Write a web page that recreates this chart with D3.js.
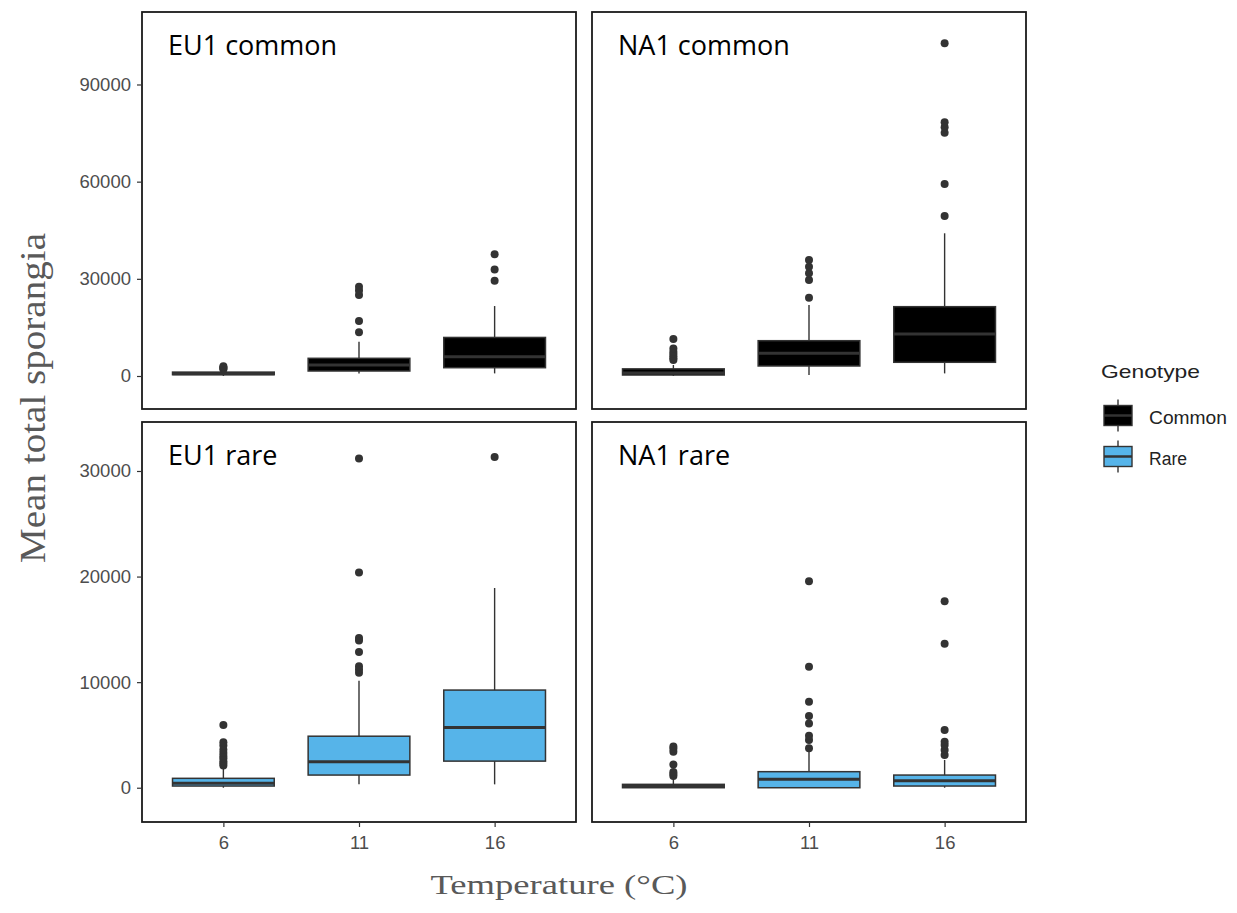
<!DOCTYPE html>
<html>
<head>
<meta charset="utf-8">
<script src="https://cdn.jsdelivr.net/npm/d3@7"></script>
<style>
  body { margin: 0; background: #fff; }
  svg { display: block; }
</style>
</head>
<body>
<svg width="1237" height="913"></svg>
<script>
// temperatures on the x axis
const temps = ["6", "11", "16"];
const genotypes = ["Common", "Rare"];
const panelNames = ["EU1 common", "NA1 common", "EU1 rare", "NA1 rare"];

// boxes per temperature: [lower whisker, q1, median, q3, upper whisker]
const eu1CommonBox = [[0, 400, 700, 1200, 1900], [800, 1540, 3400, 5460, 10590], [800, 2560, 5970, 11900, 21600]];
const eu1CommonOut = [[2100, 2400, 2700, 3000], [13490, 16980, 25010, 26400, 27570], [29400, 32900, 37600]];

const na1CommonBox = [[0, 300, 900, 2200, 3400], [300, 3090, 7000, 10900, 21900], [800, 4230, 12970, 21400, 44060]];
const na1CommonOut = [[4900, 5500, 6100, 6800, 7500, 8500, 11400],
                      [24170, 29640, 31700, 33750, 35810],
                      [49400, 59280, 75110, 76780, 78330, 102700]];

const eu1RareBox = [[0, 160, 420, 890, 1840], [320, 1200, 2460, 4880, 10130], [320, 2520, 5700, 9250, 18920]];
const eu1RareOut = [[2100, 2300, 2500, 2800, 3000, 3300, 3600, 4000, 4300, 5930],
                    [10900, 11200, 11500, 12860, 13950, 14170, 20380, 31180],
                    [31320]];

const na1RareBox = [[0, 0, 150, 320, 890], [0, 0, 800, 1520, 3570], [0, 160, 660, 1200, 2630]];
const na1RareOut = [[1100, 1300, 1500, 2200, 3400, 3700, 3900],
                    [3730, 4510, 4920, 6090, 6790, 8140, 11450, 19560],
                    [3090, 3570, 4040, 4350, 5460, 13630, 17670]];

const topTicks = [0, 30000, 60000, 90000];
const bottomTicks = [0, 10000, 20000, 30000];
const topDomain = [-10190, 112380];
const bottomDomain = [-3246, 34640];

const fills = { Common: "#000000", Rare: "#56B4E9" };

const svg = d3.select('svg');
svg.append('rect').attr('width', 1237).attr('height', 913).attr('fill', '#fff');

const panels = [
  { name: panelNames[0], box: eu1CommonBox, out: eu1CommonOut, geno: "Common", x0: 142, x1: 576, y0: 12,  y1: 409, dom: topDomain, ticks: topTicks, yAxis: true,  xAxis: false },
  { name: panelNames[1], box: na1CommonBox, out: na1CommonOut, geno: "Common", x0: 592, x1: 1026, y0: 12, y1: 409, dom: topDomain, ticks: topTicks, yAxis: false, xAxis: false },
  { name: panelNames[2], box: eu1RareBox, out: eu1RareOut, geno: "Rare", x0: 142, x1: 576, y0: 422, y1: 822, dom: bottomDomain, ticks: bottomTicks, yAxis: true,  xAxis: true },
  { name: panelNames[3], box: na1RareBox, out: na1RareOut, geno: "Rare", x0: 592, x1: 1026, y0: 422, y1: 822, dom: bottomDomain, ticks: bottomTicks, yAxis: false, xAxis: true }
];

const render = p => {
  const xScale = d3.scalePoint().domain(temps).range([p.x0, p.x1]).padding(0.6);
  const yScale = d3.scaleLinear().domain(p.dom).range([p.y1, p.y0]);
  const bw = xScale.step() * 0.75;
  const g = svg.append('g');

  const boxes = temps.map((t, i) => ({ t: t, s: p.box[i], out: p.out[i] }));

  // whiskers
  g.selectAll('line.whisker').data(boxes).enter().append('line')
    .attr('x1', d => xScale(d.t)).attr('x2', d => xScale(d.t))
    .attr('y1', d => yScale(d.s[0])).attr('y2', d => yScale(d.s[4]))
    .attr('stroke', '#333').attr('stroke-width', 1.4);

  // boxes
  g.selectAll('rect.box').data(boxes).enter().append('rect')
    .attr('x', d => xScale(d.t) - bw / 2)
    .attr('width', bw)
    .attr('y', d => yScale(d.s[3]))
    .attr('height', d => Math.max(1, yScale(d.s[1]) - yScale(d.s[3])))
    .attr('fill', fills[p.geno])
    .attr('stroke', '#333').attr('stroke-width', 1.5);

  // medians
  g.selectAll('line.median').data(boxes).enter().append('line')
    .attr('x1', d => xScale(d.t) - bw / 2).attr('x2', d => xScale(d.t) + bw / 2)
    .attr('y1', d => yScale(d.s[2])).attr('y2', d => yScale(d.s[2]))
    .attr('stroke', '#333').attr('stroke-width', 3);

  // outliers
  const pts = [];
  boxes.forEach(b => b.out.forEach(v => pts.push({ t: b.t, v: v })));
  g.selectAll('circle').data(pts).enter().append('circle')
    .attr('cx', d => xScale(d.t)).attr('cy', d => yScale(d.v))
    .attr('r', 4).attr('fill', '#333');

  // panel border
  g.append('rect')
    .attr('x', p.x0).attr('y', p.y0)
    .attr('width', p.x1 - p.x0).attr('height', p.y1 - p.y0)
    .attr('fill', 'none').attr('stroke', '#1a1a1a').attr('stroke-width', 1.8);

  // panel label
  g.append('text')
    .attr('x', p.x0 + 26).attr('y', p.y0 + 43)
    .attr('font-family', '"Open Sans", sans-serif')
    .attr('font-size', 27).attr('fill', '#000')
    .text(p.name);

  if (p.yAxis) {
    const ay = g.append('g')
      .attr('transform', `translate(${p.x0}, 0)`)
      .call(d3.axisLeft(yScale).tickValues(p.ticks).tickSize(5).tickPadding(6).tickFormat(d3.format('d')));
    ay.select('.domain').remove();
    ay.selectAll('.tick line').attr('stroke', '#333').attr('stroke-width', 1.2);
    ay.selectAll('.tick text')
      .attr('font-family', '"Liberation Sans", Arial, sans-serif')
      .attr('font-size', 18.5).attr('fill', '#4d4d4d');
  }
  if (p.xAxis) {
    const ax = g.append('g')
      .attr('transform', `translate(0, ${p.y1})`)
      .call(d3.axisBottom(xScale).tickSize(5).tickPadding(9));
    ax.select('.domain').remove();
    ax.selectAll('.tick line').attr('stroke', '#333').attr('stroke-width', 1.2);
    ax.selectAll('.tick text')
      .attr('font-family', '"Liberation Sans", Arial, sans-serif')
      .attr('font-size', 18.5).attr('fill', '#4d4d4d');
  }
};

panels.forEach(render);

// axis titles
svg.append('text')
  .attr('transform', 'translate(45, 398) rotate(-90)')
  .attr('text-anchor', 'middle')
  .attr('font-family', '"Liberation Serif", "Times New Roman", serif')
  .attr('font-size', 36).attr('fill', '#595959')
  .attr('textLength', 330).attr('lengthAdjust', 'spacingAndGlyphs')
  .text('Mean total sporangia');

svg.append('text')
  .attr('x', 559).attr('y', 894)
  .attr('text-anchor', 'middle')
  .attr('font-family', '"Liberation Serif", "Times New Roman", serif')
  .attr('font-size', 28).attr('fill', '#595959')
  .attr('textLength', 257).attr('lengthAdjust', 'spacingAndGlyphs')
  .text('Temperature (°C)');

// legend
const leg = svg.append('g');
leg.append('text')
  .attr('x', 1101).attr('y', 378)
  .attr('font-family', '"Liberation Sans", Arial, sans-serif')
  .attr('font-size', 19).attr('fill', '#222')
  .attr('textLength', 99).attr('lengthAdjust', 'spacingAndGlyphs')
  .text('Genotype');

const legY = d3.scalePoint().domain(genotypes).range([415.5, 456.5]);
const keys = leg.selectAll('g.key').data(genotypes).enter().append('g');
keys.append('line')
  .attr('x1', 1118).attr('x2', 1118)
  .attr('y1', d => legY(d) - 16).attr('y2', d => legY(d) + 16)
  .attr('stroke', '#333').attr('stroke-width', 1.4);
keys.append('rect')
  .attr('x', 1104).attr('width', 28)
  .attr('y', d => legY(d) - 10).attr('height', 20)
  .attr('fill', d => fills[d]).attr('stroke', '#333').attr('stroke-width', 1.4);
keys.append('line')
  .attr('x1', 1104).attr('x2', 1132)
  .attr('y1', d => legY(d)).attr('y2', d => legY(d))
  .attr('stroke', '#333').attr('stroke-width', 2.5);
keys.append('text')
  .attr('x', 1149).attr('y', d => legY(d) + 8.5)
  .attr('font-family', '"Liberation Sans", Arial, sans-serif')
  .attr('font-size', 18).attr('fill', '#222')
  .attr('textLength', d => d === 'Common' ? 78 : 38).attr('lengthAdjust', 'spacingAndGlyphs')
  .text(d => d);
</script>
</body>
</html>
